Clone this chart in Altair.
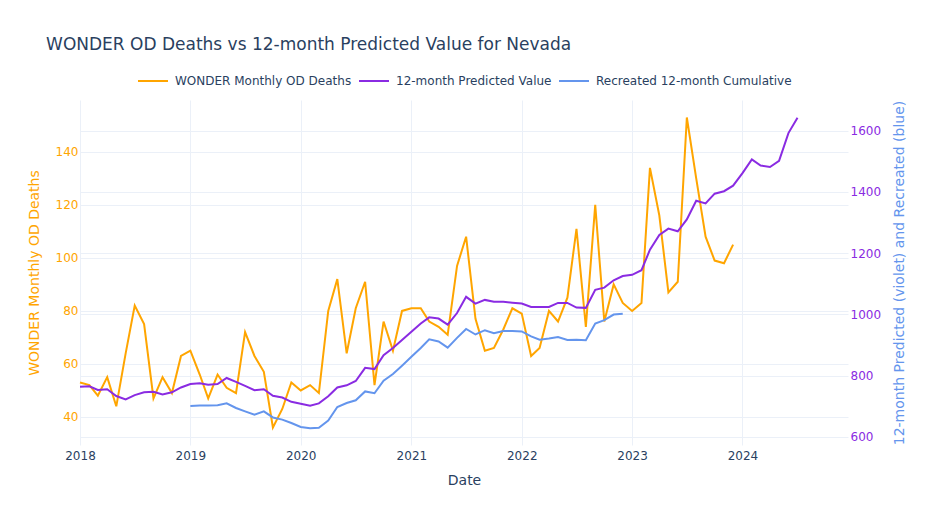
import altair as alt
import pandas as pd

# ---- data ----
wonder_monthly = [53, 52, 48, 55, 44, 64, 82, 75, 47, 55, 49, 63,
                  65, 56, 47, 56, 51, 49, 72, 63, 57, 36, 43, 53,
                  50, 52, 49, 80, 92, 64, 81, 91, 52, 76, 65, 80,
                  81, 81, 76, 74, 71, 97, 108, 77, 65, 66, 73, 81,
                  79, 63, 66, 80, 76, 85, 111, 74, 120, 76, 90, 83,
                  80, 83, 134, 116, 87, 91, 153, 130, 108, 99, 98, 105]

predicted_12m = [763, 765, 753, 755, 733, 722, 736, 745, 747, 738, 745, 761,
                 772, 775, 770, 772, 792, 779, 766, 752, 755, 734, 728, 714,
                 708, 701, 709, 732, 761, 768, 782, 825, 821, 866, 890, 916,
                 943, 970, 990, 986, 966, 1004, 1057, 1035, 1047, 1041, 1041, 1038,
                 1035, 1024, 1024, 1024, 1037, 1037, 1022, 1021, 1080, 1087, 1111, 1125,
                 1129, 1144, 1211, 1259, 1280, 1271, 1310, 1371, 1362, 1394, 1402, 1420,
                 1461, 1506, 1486, 1481, 1501, 1592, 1642]

recreated_12m = [700, 702, 702, 703, 709, 694, 683, 672, 683, 663, 656, 645,
                 632, 628, 629, 653, 697, 710, 719, 748, 742, 783, 805, 832,
                 861, 890, 918, 911, 891, 923, 952, 934, 948, 938, 945, 945,
                 944, 928, 917, 921, 926, 916, 917, 915, 970, 981, 999, 1002]

series_names = ["WONDER Monthly OD Deaths", "12-month Predicted Value",
                "Recreated 12-month Cumulative"]
series_colors = ["orange", "blueviolet", "cornflowerblue"]
left_ticks = [40, 60, 80, 100, 120, 140]
right_ticks = [600, 800, 1000, 1200, 1400, 1600]
years = list(range(2018, 2025))


def monthly(start, values, name):
    dates = pd.date_range(start, periods=len(values), freq="MS")
    return pd.DataFrame({
        "Date": [d.strftime("%Y-%m-%dT00:00:00") for d in dates],
        "value": values,
        "series": name,
    })


df_left = monthly("2018-01-01", wonder_monthly, series_names[0])
df_right = pd.concat([
    monthly("2018-01-01", predicted_12m, series_names[1]),
    monthly("2019-01-01", recreated_12m, series_names[2]),
])

FONT = "DejaVu Sans"
TXT = "#2a3f5f"
GRID = "#EBF0F8"

color = alt.Color(
    "series:N",
    scale=alt.Scale(domain=series_names, range=series_colors),
    legend=alt.Legend(
        title=None, orient="none", direction="horizontal",
        legendX=57, legendY=-35,
        symbolType="stroke", symbolSize=900, symbolStrokeWidth=2,
        labelFontSize=12, labelColor=TXT, labelFont=FONT,
        labelOffset=6, columnPadding=3, labelLimit=400,
    ),
)

x = alt.X(
    "Date:T",
    scale=alt.Scale(domain=[alt.DateTime(year=2018, month=1, date=1),
                            alt.DateTime(year=2024, month=12, date=15)]),
    axis=alt.Axis(
        title="Date", values=[alt.DateTime(year=y, month=1, date=1) for y in years],
        format="%Y", labelColor=TXT, titleColor=TXT, labelFontSize=12,
        titleFontSize=14, titleFontWeight="normal", grid=True, gridColor=GRID,
        domain=False, ticks=False, tickSize=0, labelPadding=5, titlePadding=12,
        labelAlign="center", labelFlush=False,
        labelFont=FONT, titleFont=FONT,
    ),
)

left = alt.Chart(df_left).mark_line(strokeWidth=2).encode(
    x=x,
    y=alt.Y(
        "value:Q",
        scale=alt.Scale(domain=[29.4, 159.6], nice=False, zero=False),
        axis=alt.Axis(
            title="WONDER Monthly OD Deaths", values=left_ticks, format="d",
            labelColor="orange", titleColor="orange", labelFontSize=12,
            titleFontSize=14, titleFontWeight="normal", grid=True, gridColor=GRID,
            domain=False, ticks=False, tickSize=0, labelPadding=2, titlePadding=14,
            labelFont=FONT, titleFont=FONT,
        ),
    ),
    color=color,
)

right = alt.Chart(df_right).mark_line(strokeWidth=2).encode(
    x=x,
    y=alt.Y(
        "value:Q",
        scale=alt.Scale(domain=[573, 1700], nice=False, zero=False),
        axis=alt.Axis(
            orient="right", title="12-month Predicted (violet) and Recreated (blue)",
            values=right_ticks, format="d", labelColor="blueviolet",
            titleColor="cornflowerblue",
            labelFontSize=12, titleFontSize=14, titleFontWeight="normal",
            grid=True, gridColor=GRID, domain=False, ticks=False, tickSize=0,
            labelPadding=2, titlePadding=12, titleAngle=270, titleBaseline="top",
            labelFont=FONT, titleFont=FONT,
        ),
    ),
    color=color,
)

chart = alt.layer(left, right).resolve_scale(y="independent").properties(
    width=768, height=345,
    autosize=alt.AutoSizeParams(type="none"),
    padding={"left": 72, "top": 92, "right": 72, "bottom": 72},
    title=alt.TitleParams(
        "WONDER OD Deaths vs 12-month Predicted Value for Nevada",
        anchor="start", fontSize=17, color=TXT, font=FONT, fontWeight="normal",
        dx=19, offset=11,
    ),
    background="white",
).configure_view(strokeWidth=0)

chart.save("out.html", embed_options={"renderer": "svg", "actions": False})
